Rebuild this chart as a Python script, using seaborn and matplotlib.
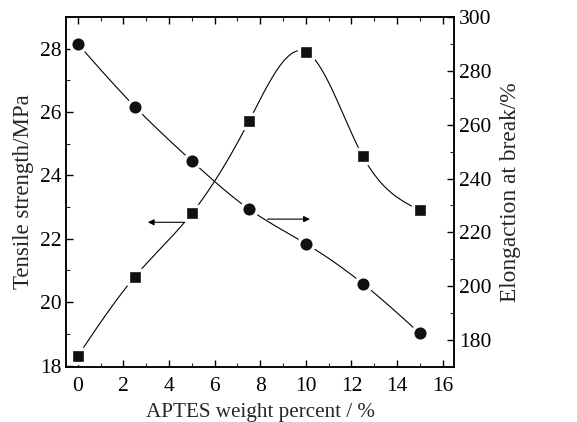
import numpy as np
import pandas as pd
import matplotlib
matplotlib.use("Agg")
import matplotlib.pyplot as plt
from matplotlib.ticker import MultipleLocator
import seaborn as sns

# Data
aptes = [0, 2.5, 5, 7.5, 10, 12.5, 15]
tensile = [18.3, 20.8, 22.8, 25.7, 27.9, 24.6, 22.9]          # left axis (squares)
elongation = [290.0, 266.7, 246.5, 228.7, 215.8, 201.0, 182.5]  # right axis (circles)
xticks = [0, 2, 4, 6, 8, 10, 12, 14, 16]
left_ticks = [18, 20, 22, 24, 26, 28]
right_ticks = [180, 200, 220, 240, 260, 280, 300]

sns.set_theme(style="ticks")
plt.rcParams["font.family"] = ["Liberation Serif", "DejaVu Serif"]
plt.rcParams["mathtext.fontset"] = "stix"


def natural_spline(x, y, n=300):
    x = np.asarray(x, float); y = np.asarray(y, float)
    m = len(x); h = np.diff(x)
    A = np.zeros((m, m)); b = np.zeros(m)
    A[0, 0] = A[-1, -1] = 1
    for i in range(1, m - 1):
        A[i, i - 1] = h[i - 1]; A[i, i] = 2 * (h[i - 1] + h[i]); A[i, i + 1] = h[i]
        b[i] = 3 * ((y[i + 1] - y[i]) / h[i] - (y[i] - y[i - 1]) / h[i - 1])
    c = np.linalg.solve(A, b)
    bb = (y[1:] - y[:-1]) / h - h * (2 * c[:-1] + c[1:]) / 3
    d = (c[1:] - c[:-1]) / (3 * h)
    xs = np.linspace(x[0], x[-1], n)
    idx = np.clip(np.searchsorted(x, xs, side="right") - 1, 0, m - 2)
    dx = xs - x[idx]
    ys = y[idx] + bb[idx] * dx + c[idx] * dx ** 2 + d[idx] * dx ** 3
    return xs, ys


fig, ax = plt.subplots(figsize=(5.77, 4.22), dpi=100)
ax2 = ax.twinx()

xs, ys = natural_spline(aptes, tensile)
sns.lineplot(x=xs, y=ys, ax=ax, color="black", lw=0.8, sort=False)
xs2, ys2 = natural_spline(aptes, elongation)
sns.lineplot(x=xs2, y=ys2, ax=ax2, color="black", lw=0.8, sort=False)

sns.scatterplot(x=aptes, y=tensile, ax=ax, marker="s", s=105, color="#111111",
                edgecolor="white", linewidth=2.4, zorder=5)
sns.scatterplot(x=aptes, y=elongation, ax=ax2, marker="o", s=124, color="#111111",
                edgecolor="white", linewidth=2.4, zorder=5)

ax.set_xlim(-0.5, 16.5)
ax.set_ylim(17.95, 29)
ax2.set_ylim(170, 300)
ax.set_xticks(xticks)
ax.set_yticks(left_ticks)
ax2.set_yticks(right_ticks)
ax.xaxis.set_minor_locator(MultipleLocator(1))
ax.yaxis.set_minor_locator(MultipleLocator(1))
ax2.yaxis.set_minor_locator(MultipleLocator(10))

ax.set_xlabel("APTES weight percent / %", fontsize=15.2, labelpad=5)
ax.set_ylabel("Tensile strength/MPa", fontsize=16.5, labelpad=4)
ax2.set_ylabel("Elongaction at break/%", fontsize=16.8, labelpad=6)

for a in (ax, ax2):
    for s in a.spines.values():
        s.set_visible(True); s.set_linewidth(1.1); s.set_color("black")
    a.tick_params(which="major", direction="in", length=5, width=1, labelsize=15.5, colors="black")
    a.tick_params(which="minor", direction="in", length=3, width=0.8)
ax.tick_params(which="both", top=True, right=False)
ax.tick_params(axis="x", which="major", pad=7)
ax2.tick_params(which="both", right=True, left=False)

# direction arrows
ax.annotate("", xy=(2.95, 22.52), xytext=(4.8, 22.52),
            arrowprops=dict(arrowstyle="-|>", color="black", lw=0.8, mutation_scale=9))
ax.annotate("", xy=(10.3, 22.62), xytext=(8.2, 22.62),
            arrowprops=dict(arrowstyle="-|>", color="black", lw=0.8, mutation_scale=9))

fig.subplots_adjust(left=0.115, right=0.787, top=0.96, bottom=0.13)
fig.savefig("out.png", dpi=100)
